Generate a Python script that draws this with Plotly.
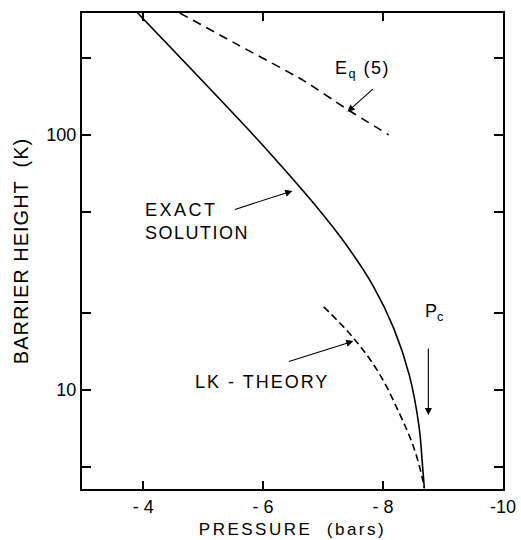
import plotly.graph_objects as go
import math

# Exact solution (solid)
exact_p = [-3.908, -5.788, -6.288, -6.843, -7.40, -7.843, -8.177, -8.438, -8.597, -8.655, -8.688]
exact_k = [300, 102.8, 76.2, 53.9, 36.7, 25.4, 17.5, 11.45, 7.29, 5.17, 4.12]

# LK-theory (dashed)
lk_p = [-7.01, -7.497, -7.922, -8.263, -8.51, -8.655, -8.68]
lk_k = [21.2, 16.1, 11.77, 8.20, 5.98, 4.52, 4.15]

# Eq (5) (dashed)
eq5_p = [-4.61, -5.567, -6.677, -7.40, -8.093]
eq5_k = [300, 226, 163, 126, 100]

x_ticks = [-4, -6, -8, -10]
x_tick_text = ["- 4", "- 6", "- 8", "-10"]
y_ticks = [5, 10, 20, 50, 100, 200]
y_tick_text = ["", "10", "", "", "100", ""]

FONT = "Liberation Sans"
L = math.log10

def spaced(t, px):
    return '<span style="letter-spacing:%spx">%s</span>' % (px, t)

fig = go.Figure()
fig.add_trace(go.Scatter(x=exact_p, y=exact_k, mode="lines",
                         line=dict(color="black", width=1.6, shape="spline", smoothing=1.0)))
fig.add_trace(go.Scatter(x=lk_p, y=lk_k, mode="lines",
                         line=dict(color="black", width=1.6, dash="7px,4px", shape="spline", smoothing=1.0)))
fig.add_trace(go.Scatter(x=eq5_p, y=eq5_k, mode="lines",
                         line=dict(color="black", width=1.6, dash="9px,6px", shape="spline", smoothing=0.6)))

ann = []
def arrow(x0, ly0, x1, ly1):
    ann.append(dict(x=x1, y=ly1, ax=x0, ay=ly0, xref="x", yref="y", axref="x", ayref="y",
                    text="", showarrow=True, arrowhead=2, arrowsize=1.3, arrowwidth=1.1,
                    arrowcolor="black"))

def label(x, ly, t, xanchor="left"):
    ann.append(dict(x=x, y=ly, xref="x", yref="y", text=t, showarrow=False,
                    xanchor=xanchor, yanchor="middle", align="left",
                    font=dict(family=FONT, size=18, color="black")))

arrow(-7.855, 2.184, -7.405, 2.090)
arrow(-5.505, 1.706, -6.488, 1.780)
arrow(-6.405, 1.110, -7.505, 1.192)
arrow(-8.755, 1.169, -8.755, 0.902)

label(-7.172, 2.255, spaced("E<sub>q</sub> (5)", 1.5))
label(-3.99, 1.659, spaced("EXACT", 2.5) + "<br>" + spaced("SOLUTION", 1.5))
label(-4.838, 1.031, spaced("LK - THEORY", 2))
label(-8.672, 1.306, "P<sub>c</sub>")

fig.update_layout(
    width=521, height=540,
    margin=dict(l=82, r=18, t=13, b=51),
    paper_bgcolor="white", plot_bgcolor="white",
    showlegend=False,
    annotations=ann,
    font=dict(family=FONT, size=18, color="black"),
    xaxis=dict(range=[-2.98, -10], tickvals=x_ticks, ticktext=x_tick_text,
               ticks="inside", ticklen=8, tickwidth=1.5, tickcolor="black",
               showline=True, linecolor="black", linewidth=2, mirror="allticks",
               showgrid=False, zeroline=False, automargin=False,
               tickfont=dict(family=FONT, size=18),
               title=dict(text=spaced("PRESSURE  (bars)", 2.5), standoff=8,
                          font=dict(family=FONT, size=17))),
    yaxis=dict(type="log", range=[L(4.1), L(300)], tickvals=y_ticks, ticktext=y_tick_text,
               ticks="inside", ticklen=9, tickwidth=1.5, tickcolor="black",
               showline=True, linecolor="black", linewidth=2, mirror="allticks",
               showgrid=False, zeroline=False, automargin=False,
               tickfont=dict(family=FONT, size=18),
               title=dict(text=spaced("BARRIER HEIGHT  (K)", 1), standoff=12,
                          font=dict(family=FONT, size=20))),
)

fig.write_html("out.html")
